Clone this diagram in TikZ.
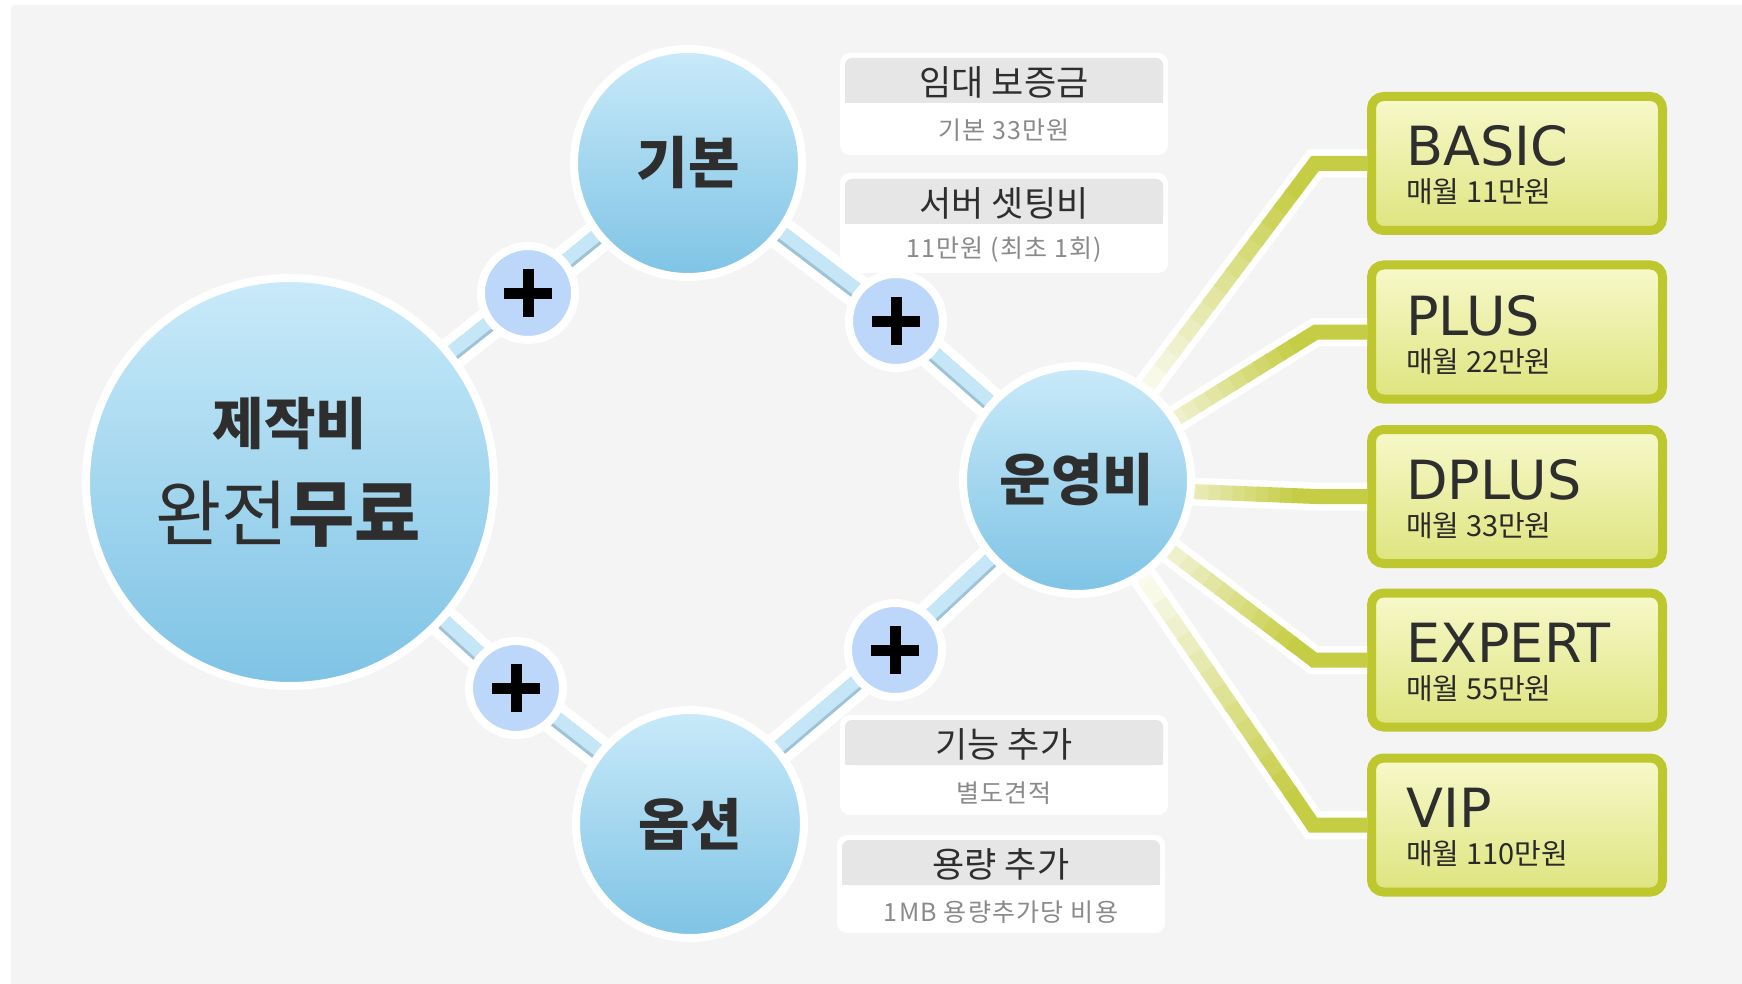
\documentclass[tikz,border=0pt]{standalone}
\usepackage{fontspec}
\usetikzlibrary{calc}
\newfontfamily\kr{Noto Sans CJK KR}
\newfontfamily\krsub{Noto Sans CJK KR}[LetterSpace=5]
\newfontfamily\dvs{DejaVu Sans}
\definecolor{bggray}{HTML}{F4F4F4}
\definecolor{ctop}{HTML}{C9EAF9}
\definecolor{cbot}{HTML}{7EC3E5}
\definecolor{plusfill}{HTML}{BDD7FA}
\definecolor{barlight}{HTML}{C4E6F6}
\definecolor{bardark}{HTML}{9EC3D4}
\definecolor{olivec}{HTML}{BFC72F}
\definecolor{ptop}{HTML}{F7F9CA}
\definecolor{pbot}{HTML}{DEE47F}
\definecolor{headgray}{HTML}{E6E6E6}
\definecolor{txt}{HTML}{2E2E2E}
\definecolor{subtxt}{HTML}{8A8A8A}
\newcommand{\olink}[3]{% start, bend, box
  \foreach \k in {0,...,17}{%
    \pgfmathsetmacro{\pc}{max(8,min(88,8+80*((\k+0.5)/20-0.3)/0.6))}%
    \draw[line width=15pt, color=olivec!\pc!white] ($(#1)!{\k/20}!(#2)$) -- ($(#1)!{(\k+1.2)/20}!(#2)$);
  }%
  \draw[line width=15pt, color=olivec!90!white, line join=miter] ($(#1)!0.9!(#2)$) -- (#2) -- (#3.west);
}
\begin{document}
\begin{tikzpicture}[x=1pt,y=-1pt,
  bigc/.style={circle, draw=white, line width=8pt, top color=ctop, bottom color=cbot, inner sep=0pt, minimum size=#1, text=txt},
  plusc/.style={circle, draw=white, line width=8pt, fill=plusfill, inner sep=0pt, minimum size=94pt},
  plusbar/.style={line width=11pt, black},
  band/.style={white, line width=#1, line join=round},
  planbox/.style={rectangle, rounded corners=12pt, draw=olivec, line width=9pt, top color=ptop, bottom color=pbot, minimum width=291pt, minimum height=134pt, inner sep=0pt},
  plantitle/.style={anchor=base west, inner sep=0pt, text=txt, font=\dvs\fontsize{54}{60}\selectfont},
  planprice/.style={anchor=base west, inner sep=0pt, text=txt!90!black, font=\kr\fontsize{29}{32}\selectfont},
  infobox/.style={rectangle, rounded corners=10pt, fill=white, minimum width=328pt, minimum height=#1, inner sep=0pt},
  infohead/.style={rectangle, rounded corners=7pt, fill=headgray, minimum width=318pt, minimum height=45pt, inner sep=0pt},
  headtxt/.style={inner sep=0pt, text=txt, font=\kr\fontsize{35}{40}\selectfont},
  subtext/.style={inner sep=0pt, text=subtxt, font=\krsub\fontsize{25}{30}\selectfont},
  circtxt/.style={inner sep=0pt, text=txt, font=\kr\bfseries\fontsize{56}{60}\selectfont}
]
\useasboundingbox (0,0) rectangle (1742,984);
\fill[white] (0,0) rectangle (1742,984);
\fill[bggray, rounded corners=4pt] (11,5) rectangle (1746,990);

% centers
\coordinate (zjc) at (290,482);
\coordinate (gbc) at (688,163);
\coordinate (osc) at (690,824);
\coordinate (ybc) at (1077,480);
\coordinate (ybd) at (1077,487);
\coordinate (p1c) at (528,293);
\coordinate (p2c) at (896,321);
\coordinate (p3c) at (516,688);
\coordinate (p4c) at (895,650);
\coordinate (b1) at (1315,163.5);
\coordinate (b2) at (1316,332);
\coordinate (b3) at (1316,496.5);
\coordinate (b4) at (1314,660);
\coordinate (b5) at (1313,825);

% plan boxes
\node[planbox] (basic) at (1517,163.5) {};
\node[planbox] (plus) at (1517,332) {};
\node[planbox] (dplus) at (1517,496.5) {};
\node[planbox] (expert) at (1517,660) {};
\node[planbox] (vip) at (1517,825) {};

% white bands
\draw[band=34pt] (zjc) -- (p1c) -- (gbc) -- (p2c) -- (ybc) -- (p4c) -- (osc) -- (p3c) -- cycle;
\draw[band=28pt, line join=miter] (ybc) -- (b1) -- (basic.west);
\draw[band=28pt, line join=miter] (ybc) -- (b2) -- (plus.west);
\draw[band=28pt, line join=miter] (ybd) -- (b3) -- (dplus.west);
\draw[band=28pt, line join=miter] (ybc) -- (b4) -- (expert.west);
\draw[band=28pt, line join=miter] (ybc) -- (b5) -- (vip.west);

% blue bars
\foreach \a/\b in {zjc/p1c, p1c/gbc, gbc/p2c, p2c/ybc, ybc/p4c, p4c/osc, osc/p3c, p3c/zjc}{
  \draw[line width=16pt, bardark] (\a) -- (\b);
  \draw[line width=13pt, barlight, transform canvas={yshift=2pt}] (\a) -- (\b);
}

% olive links
\olink{ybc}{b1}{basic}
\olink{ybc}{b2}{plus}
\olink{ybd}{b3}{dplus}
\olink{ybc}{b4}{expert}
\olink{ybc}{b5}{vip}

% circles
\node[bigc=408pt] (zj) at (zjc) {};
\node[bigc=228pt, circtxt] (gb) at (gbc) {기본};
\node[bigc=228pt, circtxt] (os) at (osc) {옵션};
\node[bigc=228pt, circtxt] (yb) at (ybc) {운영비};
\node[circtxt] (zjt1) at (290,424) {제작비};
\node[inner sep=0pt, text=txt, font=\kr\fontsize{72}{76}\selectfont] (zjt2) at (288,514) {완전{\bfseries 무료}};

% plus circles
\foreach \p/\q in {p1/p1c, p2/p2c, p3/p3c, p4/p4c}{
  \node[plusc] (\p) at (\q) {};
  \draw[plusbar] ($(\q)+(-24,0)$) -- ($(\q)+(24,0)$);
  \draw[plusbar] ($(\q)+(0,-24)$) -- ($(\q)+(0,24)$);
}

% plan texts
\node[plantitle] (basict) at (1406,166) {BASIC};
\node[planprice] (basicp) at (1406,203) {매월 11만원};
\node[plantitle] (plust) at (1406,335) {PLUS};
\node[planprice] (plusp) at (1406,372) {매월 22만원};
\node[plantitle] (dplust) at (1406,499) {DPLUS};
\node[planprice] (dplusp) at (1406,536) {매월 33만원};
\node[plantitle] (expertt) at (1406,662) {EXPERT};
\node[planprice] (expertp) at (1406,699) {매월 55만원};
\node[plantitle] (vipt) at (1406,827) {VIP};
\node[planprice] (vipp) at (1406,864) {매월 110만원};

% info boxes
\node[infobox=102pt] (ib1) at (1004,104) {};
\node[infohead] (ih1) at (1004,80.5) {};
\fill[headgray] (ih1.west) rectangle (ih1.south east);
\node[headtxt] (it1) at (1004,82) {임대 보증금};
\node[subtext] (is1) at (1004,130) {기본 33만원};

\node[infobox=100pt] (ib2) at (1004,223) {};
\node[infohead] (ih2) at (1004,201.5) {};
\fill[headgray] (ih2.west) rectangle (ih2.south east);
\node[headtxt] (it2) at (1004,203) {서버 셋팅비};
\node[subtext] (is2) at (1004,250) {11만원 (최초 1회)};

\node[infobox=100pt] (ib3) at (1004,765) {};
\node[infohead] (ih3) at (1004,742.5) {};
\fill[headgray] (ih3.west) rectangle (ih3.south east);
\node[headtxt] (it3) at (1004,744) {기능 추가};
\node[subtext] (is3) at (1004,793) {별도견적};

\node[infobox=98pt] (ib4) at (1001,884) {};
\node[infohead] (ih4) at (1001,862.5) {};
\fill[headgray] (ih4.west) rectangle (ih4.south east);
\node[headtxt] (it4) at (1001,864) {용량 추가};
\node[subtext] (is4) at (1001,912) {1MB 용량추가당 비용};
\end{tikzpicture}
\end{document}
